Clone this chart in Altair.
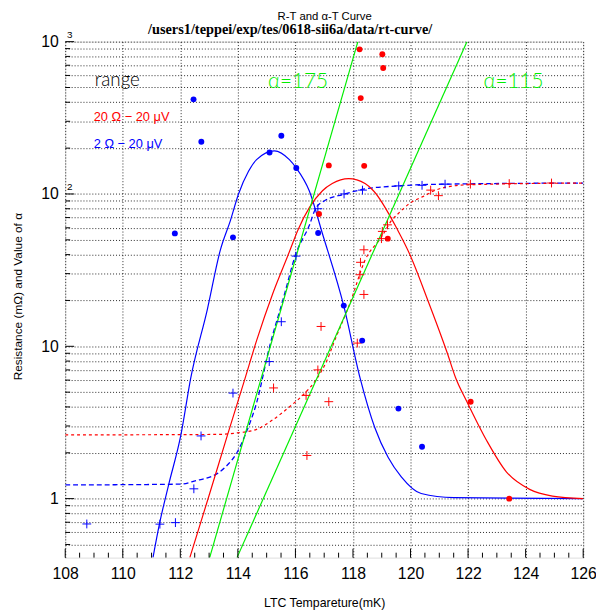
import altair as alt
import pandas as pd

# ---------------- data ----------------
blue_dot_T = [111.81, 112.46, 112.73, 113.83, 115.10, 115.51, 116.03, 116.79, 117.68, 118.32, 119.58, 120.40]
blue_dot_V = [55.1, 418, 220, 51.9, 187, 241, 148, 55.4, 18.5, 10.9, 3.90, 2.19]

red_dot_T = [116.82, 117.16, 118.23, 118.27, 118.39, 119.02, 119.05, 119.21, 122.09, 123.43]
red_dot_V = [73.9, 154, 890, 426, 153, 826, 671, 50.9, 4.33, 1.0]

blue_cross_T = [108.75, 111.29, 111.83, 112.47, 112.72, 113.83, 115.09, 115.51, 116.02,
                116.78, 117.69, 118.33, 119.59, 120.40, 121.20]
blue_cross_V = [0.682, 0.68, 0.696, 1.16, 2.58, 4.93, 7.94, 14.5, 39.1,
                80, 100, 106, 113, 114, 116]

red_cross_T = [115.24, 116.37, 116.40, 116.78, 116.89, 117.16, 118.15, 118.24, 118.26, 118.38,
               118.38, 118.99, 119.02, 119.20, 120.70, 120.97, 122.08, 123.43, 124.90]
red_cross_V = [5.33, 4.76, 1.92, 7.0, 13.5, 4.33, 10.5, 29.5, 35.6, 43,
               21.9, 50.9, 56.8, 62.7, 106, 97.5, 116, 117, 118]

blue_fit_T = [111.05, 111.28, 111.60, 112.02, 112.36, 112.94, 113.39, 113.74, 114.02, 114.37,
              114.65, 115.27, 115.79, 116.03, 116.48, 116.94, 117.68, 118.25, 118.76, 119.22,
              119.68, 120.37, 121.51, 126.0]
blue_fit_V = [0.41, 0.69, 1.245, 2.62, 6.16, 17.5, 42.8, 66.9, 99.6, 141,
              168, 192, 168, 148, 105, 54.8, 18.4, 6.16, 2.92, 1.87,
              1.39, 1.08, 1.015, 1.0]

red_fit_T = [112.33, 113.02, 113.63, 114.25, 114.65, 115.22, 115.79, 116.08, 116.94, 117.28,
             117.85, 118.42, 118.71, 119.56, 119.96, 120.59, 121.28, 121.57, 121.96, 122.65,
             123.33, 124.14, 124.93, 126.0]
red_fit_V = [0.41, 1.08, 2.58, 6.16, 10.9, 22.4, 41.7, 57.6, 105, 117,
             126, 117, 105, 57.6, 40.7, 20.3, 9.0, 6.2, 4.33, 2.40,
             1.50, 1.15, 1.04, 1.0]

blue_rfit_T = [108.0, 112.02, 112.59, 112.82, 113.28, 113.62, 113.97, 114.31, 114.65, 115.11,
               115.57, 116.02, 116.48, 116.70, 117.0, 117.68, 118.31, 119.56, 121.16, 126.0]
blue_rfit_V = [1.23, 1.245, 1.32, 1.35, 1.46, 1.65, 2.01, 2.78, 4.25, 10.1,
               20.3, 40.7, 62, 80, 90, 99.5, 107, 113, 116, 118]

red_rfit_T = [108.0, 113.3, 113.97, 114.65, 115.22, 115.79, 116.36, 116.71, 117.11, 117.33,
              117.91, 118.42, 118.99, 119.34, 119.56, 119.96, 120.48, 120.82, 121.51, 122.08, 126.0]
red_rfit_V = [2.62, 2.64, 2.70, 2.85, 3.30, 4.0, 5.0, 6.0, 8.2, 10.5,
              19.5, 36.8, 52.1, 66.9, 73.9, 86.5, 97.1, 105, 113, 115, 118]

alpha175_T = [113.02, 118.17]
alpha175_V = [0.41, 1000]
alpha115_T = [113.97, 121.96]
alpha115_V = [0.41, 1000]

x_major = [108, 110, 112, 114, 116, 118, 120, 122, 124, 126]
x_minor = [108 + 0.5 * i for i in range(37) if (108 + 0.5 * i) not in x_major]
y_grid = [0.5, 0.6, 0.7, 0.8, 0.9, 1, 2, 3, 4, 5, 6, 7, 8, 9,
          10, 20, 30, 40, 50, 60, 70, 80, 90, 100, 200, 300, 400, 500, 600, 700, 800, 900, 1000]
y_major = [1, 10, 100, 1000]
y_minor = [v for v in y_grid if v not in y_major]
sup_V = [1000, 100]
sup_text = ["3", "2"]

range_text = ["range"]
range_T = [109.03]
range_V = [509]
leg_text = ["20 Ω − 20 μV", "2 Ω − 20 μV"]
leg_T = [108.99, 108.99]
leg_V = [301, 201]
alpha_text = ["α=175", "α=115"]
alpha_T = [115.05, 122.54]
alpha_V = [493, 493]

title_text = "R-T and α-T Curve"
subtitle_text = "/users1/teppei/exp/tes/0618-sii6a/data/rt-curve/"

# ---------------- chart ----------------
W, H = 525, 523
RED, BLUE, GREEN = "#ff0000", "#0000ff", "#00ee00"
CROSS = "M-1,0H1M0,-1V1"

x_axis = alt.Axis(values=x_major, grid=True, gridDash=[1, 2], gridColor="#000", gridOpacity=0.85,
                  ticks=False, tickSize=0, domain=False, labelFontSize=16, labelFont="Liberation Sans",
                  labelPadding=8, labelColor="#000", labelFlush=False, labelOverlap=False,
                  title="LTC Tempareture(mK)",
                  titleFont="Liberation Sans", titleFontSize=12.5, titleFontWeight="normal",
                  titleColor="#000", titleY=46, titleBaseline="middle")
y_axis = alt.Axis(values=y_grid, grid=True, gridDash=[1, 2], gridColor="#000", gridOpacity=0.85,
                  ticks=False, tickSize=0, domain=False, labelFontSize=16, labelFont="Liberation Sans",
                  labelPadding=7, labelColor="#000", labelFlush=False, labelOverlap=False,
                  labelExpr="datum.value == 1000 || datum.value == 100 || datum.value == 10 ? '10' : (datum.value == 1 ? '1' : '')",
                  title="Resistance (mΩ) and Value of α", titleFont="Liberation Sans",
                  titleFontSize=12, titleFontWeight="normal", titleColor="#000",
                  titleX=-48, titleY=258, titleBaseline="middle", titleAlign="center")

xs = alt.Scale(domain=[108, 126], nice=False, zero=False)
ys = alt.Scale(type="log", domain=[0.41, 1000], nice=False)


def X():
    return alt.X("T:Q", scale=xs, axis=x_axis)


def Y():
    return alt.Y("V:Q", scale=ys, axis=y_axis)


def df(t, v):
    return pd.DataFrame({"T": t, "V": v})


def curve(t, v, color, dash=None, width=1.2):
    kw = dict(color=color, strokeWidth=width, clip=True, interpolate="monotone")
    if dash:
        kw["strokeDash"] = dash
    return alt.Chart(df(t, v)).mark_line(**kw).encode(x=X(), y=Y())


def dots(t, v, color):
    return alt.Chart(df(t, v)).mark_point(shape="circle", filled=True, size=36, color=color,
                                          opacity=1).encode(x=X(), y=Y())


def crosses(t, v, color):
    return alt.Chart(df(t, v)).mark_point(shape=CROSS, filled=False, size=80, color=color,
                                          strokeWidth=1, opacity=1).encode(x=X(), y=Y())


layers = [
    curve(blue_rfit_T, blue_rfit_V, BLUE, dash=[5, 3], width=1.3),
    curve(red_rfit_T, red_rfit_V, RED, dash=[3, 3], width=1.2),
    curve(blue_fit_T, blue_fit_V, BLUE),
    curve(red_fit_T, red_fit_V, RED),
    alt.Chart(df(alpha175_T, alpha175_V)).mark_line(color=GREEN, strokeWidth=1.2, clip=True).encode(x=X(), y=Y()),
    alt.Chart(df(alpha115_T, alpha115_V)).mark_line(color=GREEN, strokeWidth=1.2, clip=True).encode(x=X(), y=Y()),
    crosses(blue_cross_T, blue_cross_V, BLUE),
    crosses(red_cross_T, red_cross_V, RED),
    dots(blue_dot_T, blue_dot_V, BLUE),
    dots(red_dot_T, red_dot_V, RED),
]

# inward ticks
layers.append(alt.Chart(pd.DataFrame({"T": x_major})).mark_rule(color="#000", strokeWidth=1).encode(
    x=X(), y=alt.value(H), y2=alt.value(H - 9)))
layers.append(alt.Chart(pd.DataFrame({"T": x_minor})).mark_rule(color="#000", strokeWidth=1).encode(
    x=X(), y=alt.value(H), y2=alt.value(H - 5)))
layers.append(alt.Chart(pd.DataFrame({"V": y_major})).mark_rule(color="#000", strokeWidth=1).encode(
    y=Y(), x=alt.value(0), x2=alt.value(9)))
layers.append(alt.Chart(pd.DataFrame({"V": y_minor})).mark_rule(color="#000", strokeWidth=1).encode(
    y=Y(), x=alt.value(0), x2=alt.value(5)))

# exponent superscripts of the y labels
layers.append(alt.Chart(pd.DataFrame({"V": sup_V, "s": sup_text})).mark_text(
    font="Liberation Sans", fontSize=10, align="center", baseline="alphabetic", dy=-4, color="#000").encode(
    y=Y(), x=alt.value(4.5), text="s:N"))

# annotations
layers.append(alt.Chart(pd.DataFrame({"T": range_T, "V": range_V, "s": range_text})).mark_text(
    font="Lato", fontWeight=300, fontSize=19, align="left", baseline="alphabetic", color="#000").encode(
    x=X(), y=Y(), text="s:N"))
layers.append(alt.Chart(pd.DataFrame({"T": leg_T, "V": leg_V, "s": leg_text, "c": [RED, BLUE]})).mark_text(
    font="Liberation Sans", fontSize=13, align="left", baseline="alphabetic").encode(
    x=X(), y=Y(), text="s:N", color=alt.Color("c:N", scale=None)))
layers.append(alt.Chart(pd.DataFrame({"T": alpha_T, "V": alpha_V, "s": alpha_text})).mark_text(
    font="Lato", fontWeight=300, fontSize=21, align="left", baseline="alphabetic", color=GREEN
).encode(x=X(), y=Y(), text="s:N"))

# titles
layers.append(alt.Chart(pd.DataFrame({"s": [title_text]})).mark_text(
    font="Liberation Sans", fontSize=11.5, align="center", baseline="alphabetic", color="#000").encode(
    x=alt.value(263), y=alt.value(-21.5), text="s:N"))
layers.append(alt.Chart(pd.DataFrame({"s": [subtitle_text]})).mark_text(
    font="Liberation Serif", fontSize=14.5, fontWeight="bold", align="center", baseline="alphabetic",
    color="#000").encode(x=alt.value(228), y=alt.value(-7.5), text="s:N"))

chart = alt.layer(*layers).properties(
    width=W, height=H,
    autosize=alt.AutoSizeParams(type="none"),
    padding={"left": 58, "top": 30, "right": 13, "bottom": 50},
).configure_view(stroke="#000", strokeWidth=1.5).configure(background="white")

chart.save("out.html", embed_options={"renderer": "svg", "actions": False})
